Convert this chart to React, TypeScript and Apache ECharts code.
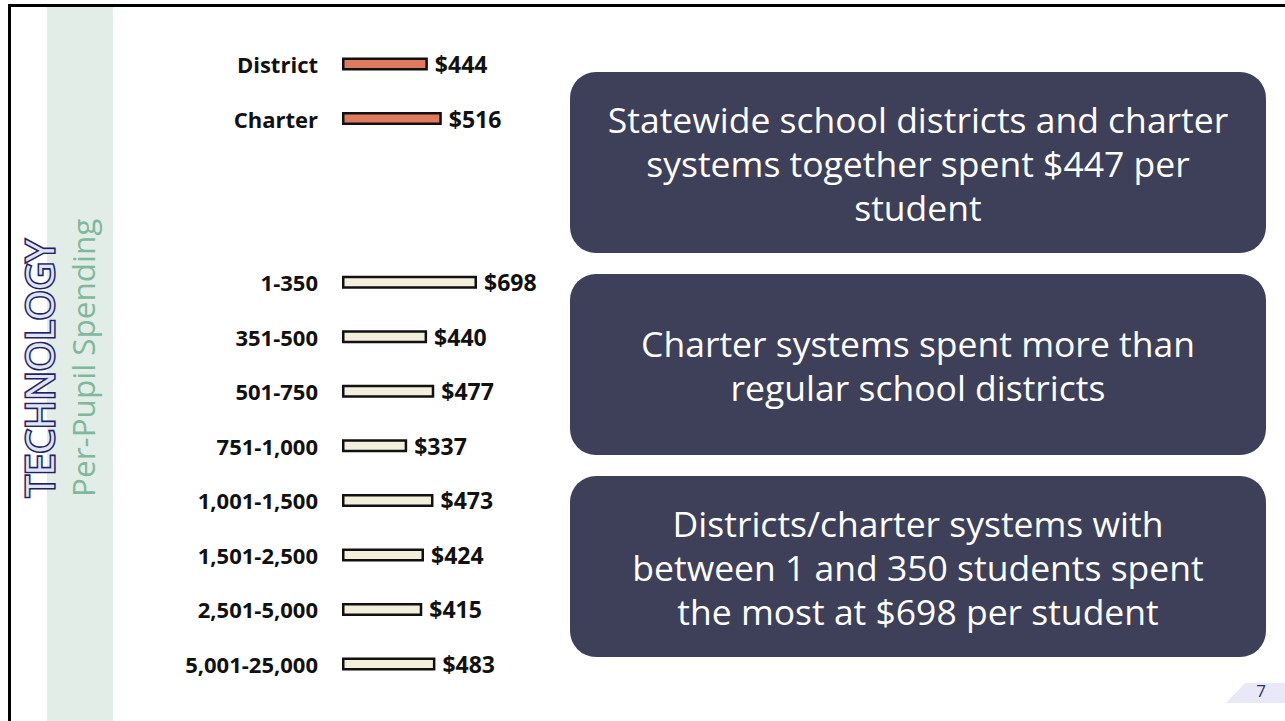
import React, { useEffect, useRef } from "react";
import * as echarts from "echarts";

const groupCategories = ["District", "Charter"];
const groupValues = [444, 516];
const sizeCategories = ["1-350", "351-500", "501-750", "751-1,000", "1,001-1,500", "1,501-2,500", "2,501-5,000", "5,001-25,000"];
const sizeValues = [698, 440, 477, 337, 473, 424, 415, 483];
const gapCategories = ["", " "];
const boxTexts = [
  "Statewide school districts and charter\nsystems together spent $447 per\nstudent",
  "Charter systems spent more than\nregular school districts",
  "Districts/charter systems with\nbetween 1 and 350 students spent\nthe most at $698 per student",
];

const FONT = "'Open Sans', sans-serif";

export default function App() {
  const ref = useRef<HTMLDivElement>(null);
  useEffect(() => {
    const chart = echarts.init(ref.current!, null, { renderer: "svg" });
    const categories = [...groupCategories, ...gapCategories, ...sizeCategories];
    const data: any[] = [
      ...groupValues.map((v) => ({ value: v, itemStyle: { color: "#e07a5f" } })),
      ...gapCategories.map(() => ({ value: null })),
      ...sizeValues.map((v) => ({ value: v, itemStyle: { color: "#f2efdc" } })),
    ];
    const boxTops = [72, 274, 476];
    const graphic: any[] = [
      { type: "rect", shape: { x: 47, y: 7, width: 66, height: 720 }, style: { fill: "#e3ede8" }, z: 0 },
      { type: "rect", shape: { x: 9.5, y: 5.5, width: 1400, height: 800 }, style: { fill: "none", stroke: "#000", lineWidth: 3 }, z: 1 },
      {
        type: "text", x: 38, y: 497, rotation: Math.PI / 2,
        style: { text: "TECHNOLOGY", font: "39px " + FONT, fill: "#dfe3f3", stroke: "#1f2366", lineWidth: 3.2, textAlign: "left", textVerticalAlign: "middle" },
      },
      {
        type: "text", x: 82, y: 497, rotation: Math.PI / 2,
        style: { text: "Per-Pupil Spending", font: "31.5px " + FONT, fill: "#7fb89a", textAlign: "left", textVerticalAlign: "middle" },
      },
      { type: "polygon", shape: { points: [[1226, 703], [1245, 683], [1285, 683], [1285, 703]] }, style: { fill: "#e8e8f8" } },
      { type: "text", x: 1261, y: 690, style: { text: "7", font: "17px " + FONT, fill: "#2a2f6e", textAlign: "center", textVerticalAlign: "middle" } },
    ];
    boxTexts.forEach((t, i) => {
      graphic.push({ type: "rect", shape: { x: 570, y: boxTops[i], width: 696, height: 181, r: 26 }, style: { fill: "#3e4059" } });
      graphic.push({
        type: "text", x: 918, y: boxTops[i] + 90.5,
        style: { text: t, font: "35.5px " + FONT, fill: "#ffffff", textAlign: "center", textVerticalAlign: "middle", lineHeight: 44 },
      });
    });
    chart.setOption({
      animation: false,
      grid: { left: 342, top: 36.7, width: 193.4, height: 654.6, containLabel: false },
      xAxis: { type: "value", min: 0, max: 1000, show: false },
      yAxis: {
        type: "category", data: categories, inverse: true,
        axisLine: { show: false }, axisTick: { show: false },
        axisLabel: { margin: 24, fontFamily: FONT, fontWeight: "bold", fontSize: 22, color: "#111" },
      },
      series: [
        {
          type: "bar", data, barWidth: 13,
          itemStyle: { borderColor: "#111", borderWidth: 2.5 },
          label: { show: true, position: "right", distance: 7, formatter: (p: any) => "$" + p.value, fontFamily: FONT, fontWeight: "bold", fontSize: 23, color: "#111" },
        },
      ],
      graphic,
    });
    return () => chart.dispose();
  }, []);
  return <div ref={ref} style={{ position: "fixed", left: 0, top: 0, width: 1285, height: 721, background: "#fff" }} />;
}
